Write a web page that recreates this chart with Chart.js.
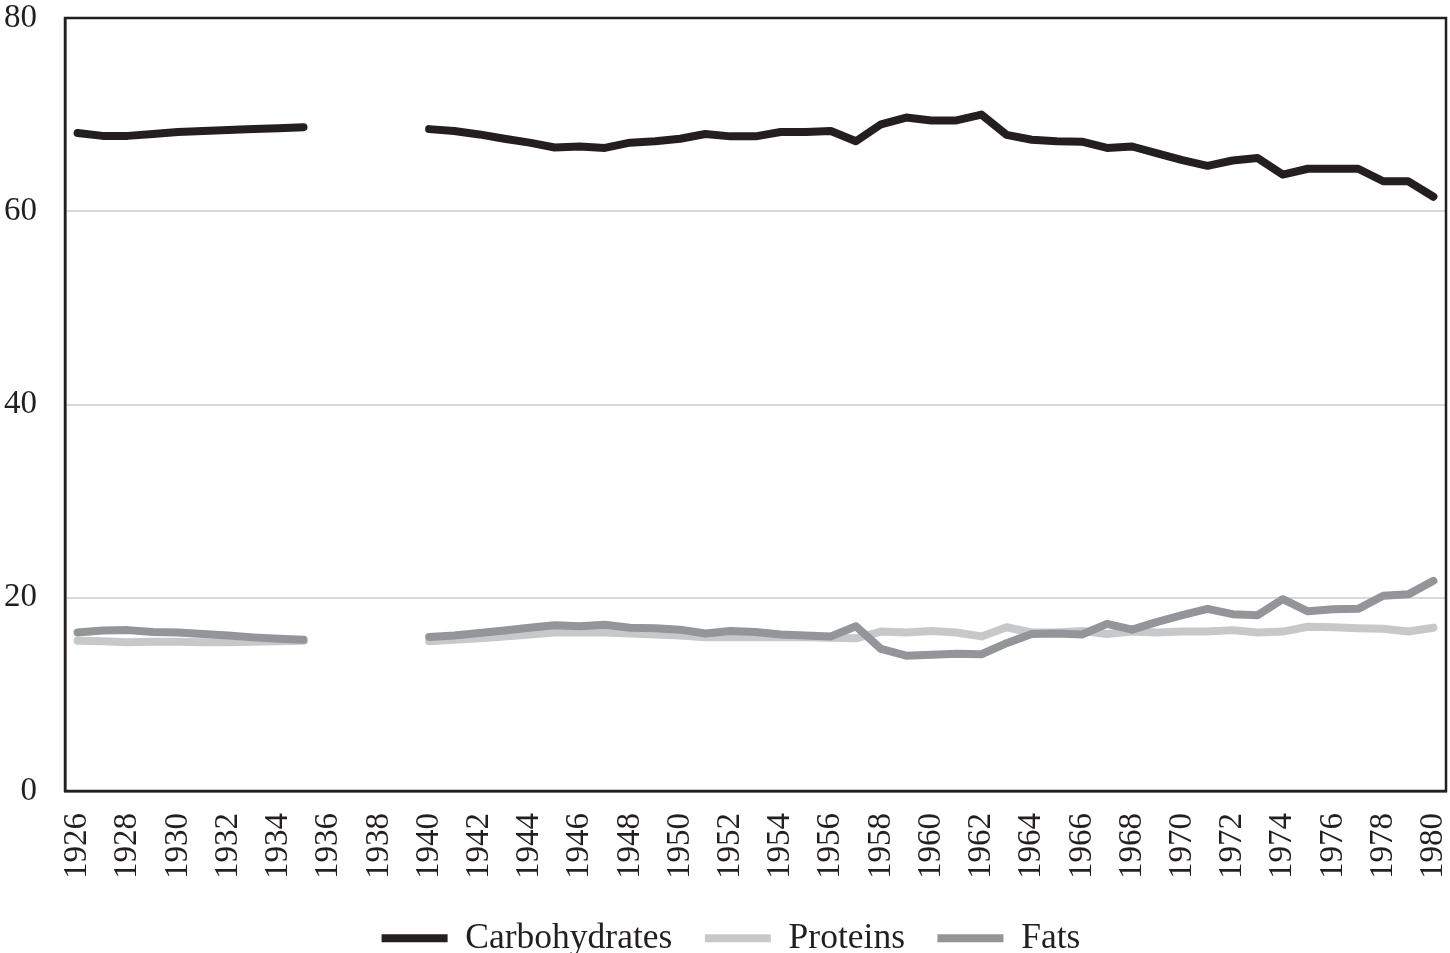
<!DOCTYPE html>
<html>
<head>
<meta charset="utf-8">
<title>Carbohydrates, Proteins, Fats 1926-1980</title>
<script src="https://cdn.jsdelivr.net/npm/chart.js@4.4.1/dist/chart.umd.min.js"></script>
<style>
  html, body { margin: 0; padding: 0; background: #fff; }
  #wrap { width: 1450px; height: 953px; }
</style>
</head>
<body>
<div id="wrap"><canvas id="dietChart"></canvas></div>
<script>
// --- DATA ---
const years = [
  '1926', '1927', '1928', '1929', '1930', '1931', '1932', '1933', '1934', '1935',
  '1936', '1937', '1938', '1939', '1940', '1941', '1942', '1943', '1944', '1945',
  '1946', '1947', '1948', '1949', '1950', '1951', '1952', '1953', '1954', '1955',
  '1956', '1957', '1958', '1959', '1960', '1961', '1962', '1963', '1964', '1965',
  '1966', '1967', '1968', '1969', '1970', '1971', '1972', '1973', '1974', '1975',
  '1976', '1977', '1978', '1979', '1980'
];

// no data for 1936-1939
const carbohydrates = [
  68.1, 67.8, 67.8, 68.0, 68.2, 68.3, 68.4, 68.5, 68.6, 68.7,
  null, null, null, null, 68.5, 68.3, 67.95, 67.5, 67.1, 66.6,
  66.7, 66.55, 67.1, 67.25, 67.5, 68.0, 67.75, 67.75, 68.2, 68.2,
  68.3, 67.25, 69.0, 69.7, 69.4, 69.4, 70.0, 67.9, 67.4, 67.25,
  67.2, 66.55, 66.7, 66.0, 65.3, 64.7, 65.25, 65.5, 63.8, 64.4,
  64.4, 64.4, 63.1, 63.1, 61.5
];

const proteins = [
  15.55, 15.5, 15.4, 15.45, 15.45, 15.4, 15.4, 15.45, 15.5, 15.55,
  null, null, null, null, 15.5, 15.65, 15.8, 16.0, 16.2, 16.4,
  16.4, 16.4, 16.3, 16.2, 16.1, 15.9, 15.9, 15.95, 15.9, 15.9,
  15.85, 15.8, 16.5, 16.4, 16.55, 16.4, 16.0, 16.95, 16.4, 16.4,
  16.55, 16.25, 16.5, 16.4, 16.5, 16.5, 16.65, 16.4, 16.5, 17.0,
  16.95, 16.85, 16.8, 16.5, 16.9
];

const fats = [
  16.4, 16.6, 16.65, 16.45, 16.4, 16.25, 16.1, 15.9, 15.75, 15.65,
  null, null, null, null, 15.95, 16.1, 16.35, 16.6, 16.9, 17.15,
  17.05, 17.2, 16.9, 16.85, 16.7, 16.3, 16.55, 16.45, 16.2, 16.1,
  16.0, 17.05, 14.7, 14.0, 14.1, 14.2, 14.15, 15.3, 16.25, 16.3,
  16.2, 17.3, 16.7, 17.5, 18.2, 18.85, 18.3, 18.2, 19.85, 18.6,
  18.8, 18.85, 20.2, 20.35, 21.75
];

const yTicks = [0, 20, 40, 60, 80];

// --- STYLE ---
const INK = '#231f20';
const FONT = "'Liberation Serif', 'Times New Roman', serif";

// box around the plot area (top and right edges too)
const plotFrame = {
  id: 'plotFrame',
  afterLayout(chart) {
    // the legend in the original sits a little right of centre
    chart.legend.left += 7;
    chart.legend.right += 7;
  },
  afterDraw(chart) {
    const { ctx, chartArea: a } = chart;
    ctx.save();
    ctx.strokeStyle = INK;
    ctx.lineWidth = 2.5;
    ctx.strokeRect(a.left, a.top, a.right - a.left, a.bottom - a.top);
    ctx.restore();
  }
};

function series(label, data, color, order) {
  return {
    label: label,
    data: data,
    borderColor: color,
    backgroundColor: color,
    borderWidth: 8,
    borderCapStyle: 'round',
    borderJoinStyle: 'round',
    pointRadius: 0,
    pointHoverRadius: 0,
    tension: 0,
    spanGaps: false,
    order: order
  };
}

new Chart(document.getElementById('dietChart'), {
  type: 'line',
  data: {
    labels: years,
    datasets: [
      series('Carbohydrates', carbohydrates, INK, 0),
      series('Proteins', proteins, '#c7c8ca', 2),
      series('Fats', fats, '#939598', 1)
    ]
  },
  options: {
    responsive: true,
    maintainAspectRatio: false,
    animation: false,
    layout: { padding: { left: 2, right: 4, top: 18, bottom: -13 } },
    plugins: {
      tooltip: { enabled: false },
      legend: {
        position: 'bottom',
        labels: {
          usePointStyle: true,
          pointStyle: 'line',
          pointStyleWidth: 66,
          padding: 32.5,
          color: INK,
          font: { family: FONT, size: 35.5 },
          sort: (a, b) => a.datasetIndex - b.datasetIndex
        }
      }
    },
    scales: {
      x: {
        offset: true,
        grid: { display: false, drawTicks: false },
        border: { display: true, color: INK, width: 2.5 },
        ticks: {
          autoSkip: false,
          maxRotation: 90,
          minRotation: 90,
          padding: 22,
          color: INK,
          font: { family: FONT, size: 33 },
          callback: function (value, index) {
            return index % 2 === 0 ? years[index] : '';
          }
        },
        afterFit: scale => {
          scale.paddingLeft = 0;
          scale.paddingRight = 0;
          scale.height = 97;
        }
      },
      y: {
        min: 0,
        max: 80,
        afterBuildTicks: axis => { axis.ticks = yTicks.map(v => ({ value: v })); },
        grid: { color: '#d9d9d9', lineWidth: 2, drawTicks: false },
        border: { display: true, color: INK, width: 2.5 },
        ticks: {
          padding: 28,
          color: INK,
          font: { family: FONT, size: 33 }
        },
        afterFit: scale => {
          scale.paddingTop = 0;
          scale.paddingBottom = 0;
          scale.width = 63;
        }
      }
    }
  },
  plugins: [plotFrame]
});
</script>
</body>
</html>
